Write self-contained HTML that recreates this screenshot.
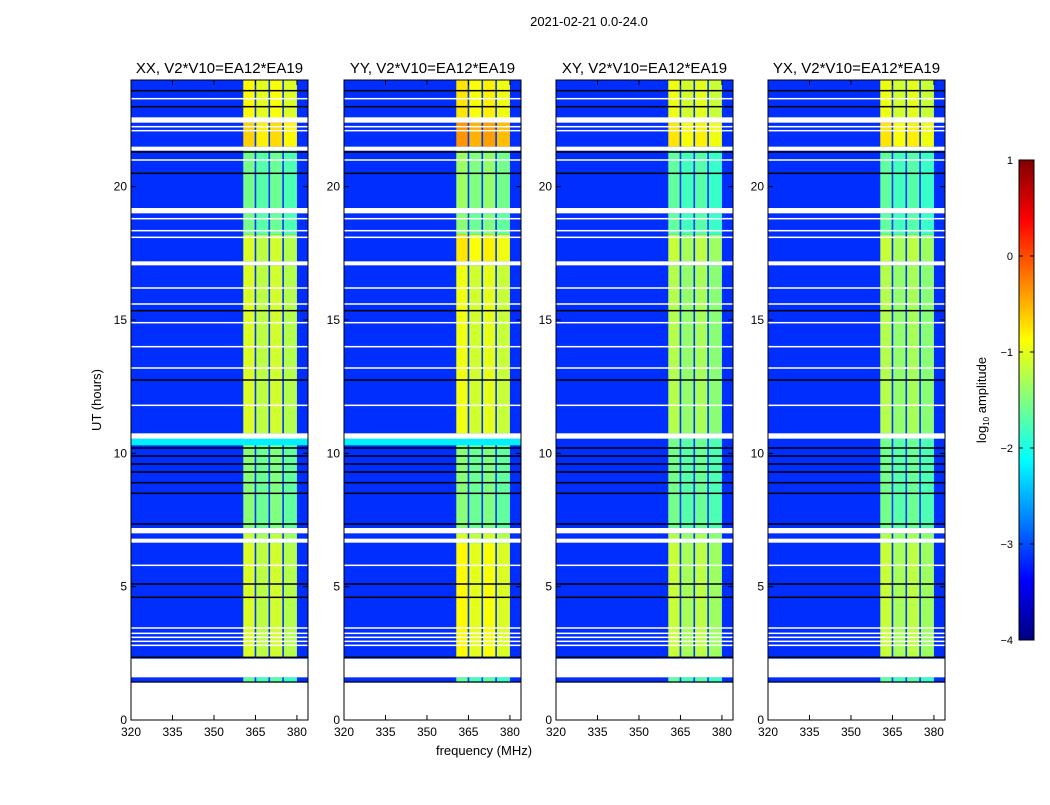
<!DOCTYPE html>
<html><head><meta charset="utf-8"><style>
html,body{margin:0;padding:0;background:#fff;}
body{width:1050px;height:800px;overflow:hidden;font-family:"Liberation Sans",sans-serif;}
</style></head><body>
<svg id="fig" width="1050" height="800" xmlns="http://www.w3.org/2000/svg" font-family="Liberation Sans, sans-serif">
<defs>
<linearGradient id="jet" x1="0" y1="1" x2="0" y2="0"></linearGradient>
</defs>
<text x="589" y="26" font-size="13" text-anchor="middle">2021-02-21 0.0-24.0</text>
<text transform="translate(101,400) rotate(-90)" font-size="13" text-anchor="middle">UT (hours)</text>
<text x="484" y="755" font-size="13" text-anchor="middle">frequency (MHz)</text>
<g id="panels"></g>
<g id="cbar"></g>
</svg>
<script>
// ---- data ----
const panelNames = ["XX", "YY", "XY", "YX"];
const xTicks = [320, 335, 350, 365, 380];
const yTicks = [0, 5, 10, 15, 20];
const cbTicks = [1, 0, -1, -2, -3, -4];
const bgLevel = -3.15;
const bandEdges = [360.6, 365, 370, 375, 380];
const subOffset = [0.15, 0.0, 0.1, -0.05];
const segStart = [1.4, 2.35, 6.6, 7.2, 10.75, 17.2, 18.2, 19.2, 21.5, 22.5];
const segEnd   = [1.6, 6.6, 7.0, 10.55, 17.05, 18.2, 19.0, 21.35, 22.4, 24];
const bandXX = [-1.8, -1.2, -1.3, -1.6, -1.2, -1.2, -1.7, -1.7, -0.8, -1.0];
const bandYY = [-1.8, -1.0, -1.2, -1.6, -1.1, -0.9, -1.6, -1.5, -0.5, -0.9];
const bandXY = [-1.8, -1.3, -1.4, -1.7, -1.4, -1.3, -1.8, -1.8, -0.9, -1.1];
const bandYX = [-1.8, -1.3, -1.4, -1.7, -1.4, -1.3, -1.8, -1.8, -0.9, -1.1];
const whiteGapStart = [0, 1.6, 6.65, 7.0, 10.55, 17.05, 19.0, 21.35, 22.4];
const whiteGapEnd   = [1.4, 2.3, 6.8, 7.2, 10.75, 17.2, 19.2, 21.5, 22.6];
const cyanStripStart = [10.3, 10.3, null, null];
const cyanStripEnd   = [10.55, 10.55, null, null];
const whiteLines = [2.8, 2.95, 3.1, 3.25, 3.45, 5.8, 11.8, 13.2, 14.0, 14.9, 15.6, 16.2, 18.1, 18.35, 18.8, 21.0, 22.1, 22.25, 23.3];
const blackLines = [1.42, 2.35, 4.6, 5.1, 7.35, 8.5, 8.9, 9.3, 9.6, 9.9, 10.2, 12.75, 15.35, 20.5, 21.3, 23.0, 23.6];
const bands = [bandXX, bandYY, bandXY, bandYX];

// ---- layout ----
const lefts = [131, 344, 556, 768], PW = 177, TOP = 80, BOT = 720;
const FMIN = 320, FMAX = 384, HMAX = 24;
const NS = "http://www.w3.org/2000/svg";
function jetT(t){const c=x=>Math.round(255*Math.max(0,Math.min(1,1.5-Math.abs(4*t-x))));return `rgb(${c(3)},${c(2)},${c(1)})`;}
function jet(v){return jetT(Math.max(0,Math.min(1,(v+4)/5)));}
function mk(tag, attrs, parent){const e=document.createElementNS(NS,tag);for(const k in attrs)e.setAttribute(k,attrs[k]);parent.appendChild(e);return e;}
const grad = document.getElementById('jet');
for (let i = 0; i <= 40; i++) mk('stop', {offset: i/40, 'stop-color': jetT(i/40)}, grad);
const panelsG = document.getElementById('panels');
panelNames.forEach((nm, p) => {
  const L = lefts[p];
  const xs = f => L + (f - FMIN) / (FMAX - FMIN) * PW;
  const ys = h => BOT - h / HMAX * (BOT - TOP);
  const g = mk('g', {}, panelsG);
  
  
  const bg = mk('rect', {x: L, y: TOP, width: PW, height: BOT - TOP, fill: jet(bgLevel)}, g);
  
  
  const vals = bands[p];
  for (let s = 0; s < segStart.length; s++) {
    for (let b = 0; b < 4; b++) {
      const r = mk('rect', {x: xs(bandEdges[b]), y: ys(segEnd[s]), width: xs(bandEdges[b+1]) - xs(bandEdges[b]), height: ys(segStart[s]) - ys(segEnd[s]), fill: jet(vals[s] + subOffset[b])}, g);
      
      
    }
  }
  for (let b = 1; b < 4; b++) {
    const d = mk('rect', {x: xs(bandEdges[b]) - 0.8, y: TOP, width: 1.6, height: BOT - TOP, fill: jet(-3.1)}, g);
    
    
  }
  if (cyanStripStart[p] !== null) {
    const c = mk('rect', {x: L, y: ys(cyanStripEnd[p]), width: PW, height: ys(cyanStripStart[p]) - ys(cyanStripEnd[p]), fill: jet(-2.2)}, g);
    
    
  }
  whiteLines.forEach(h => {
    const l = mk('rect', {x: L, y: ys(h) - 0.75, width: PW, height: 1.5, fill: '#fff'}, g);
    
    
  });
  blackLines.forEach(h => {
    const l = mk('rect', {x: L, y: ys(h) - 0.75, width: PW, height: 1.5, fill: '#000'}, g);
    
    
  });
  for (let i = 0; i < whiteGapStart.length; i++) {
    const w = mk('rect', {x: L, y: ys(whiteGapEnd[i]), width: PW, height: ys(whiteGapStart[i]) - ys(whiteGapEnd[i]), fill: '#fff'}, g);
    
    
  }
  const fr = mk('rect', {x: L, y: TOP, width: PW, height: BOT - TOP, fill: 'none', stroke: '#000', 'stroke-width': 1}, g);
  
  
  const t = mk('text', {x: L + PW/2, y: 73, 'font-size': 15, 'text-anchor': 'middle'}, g);
  t.textContent = nm + ', V2*V10=EA12*EA19';
  
  
  xTicks.forEach(f => {
    mk('line', {x1: xs(f), x2: xs(f), y1: BOT, y2: BOT - 5, stroke: '#000'}, g);
    mk('line', {x1: xs(f), x2: xs(f), y1: TOP, y2: TOP + 5, stroke: '#000'}, g);
    const tx = mk('text', {x: xs(f), y: BOT + 16, 'font-size': 12, 'text-anchor': 'middle'}, g);
    tx.textContent = f;
    
    
  });
  yTicks.forEach(h => {
    mk('line', {x1: L, x2: L + 5, y1: ys(h), y2: ys(h), stroke: '#000'}, g);
    mk('line', {x1: L + PW, x2: L + PW - 5, y1: ys(h), y2: ys(h), stroke: '#000'}, g);
    const ty = mk('text', {x: L - 4, y: ys(h) + 4, 'font-size': 12, 'text-anchor': 'end'}, g);
    ty.textContent = h;
    
    
  });
});
// colorbar
const cb = document.getElementById('cbar');
const CBX = 1019, CBW = 15, CBT = 160, CBB = 640;
const cy = v => CBB - (v + 4) / 5 * (CBB - CBT);
const cr = mk('rect', {x: CBX, y: CBT, width: CBW, height: CBB - CBT, fill: 'url(#jet)', stroke: '#000', 'stroke-width': 1}, cb);


cbTicks.forEach(v => {
  mk('line', {x1: CBX, x2: CBX + 4, y1: cy(v), y2: cy(v), stroke: '#000'}, cb);
  mk('line', {x1: CBX + CBW, x2: CBX + CBW - 4, y1: cy(v), y2: cy(v), stroke: '#000'}, cb);
  const t = mk('text', {x: CBX - 6, y: cy(v) + 4, 'font-size': 11, 'text-anchor': 'end'}, cb);
  t.textContent = v < 0 ? '\u2212' + (-v) : String(v);
  
  
});
const ct = mk('text', {transform: 'translate(986,400) rotate(-90)', 'font-size': 13, 'text-anchor': 'middle'}, cb);
ct.innerHTML = 'log<tspan font-size="8" dy="3">10</tspan><tspan dy="-3"> amplitude</tspan>';


</script>
</body></html>
